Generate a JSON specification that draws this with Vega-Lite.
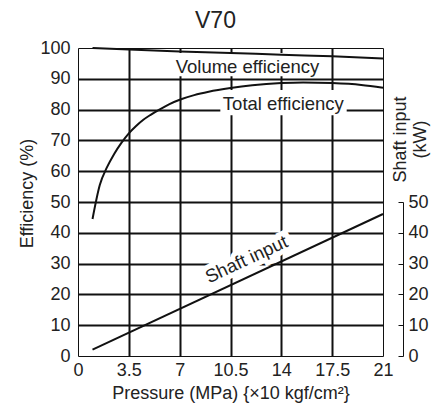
{
  "$schema": "https://vega.github.io/schema/vega-lite/v6.json",
  "width": 305,
  "height": 308,
  "autosize": "none",
  "padding": {"left": 78, "top": 48, "right": 60, "bottom": 53},
  "background": "white",
  "config": {
    "font": "Liberation Sans",
    "view": {"stroke": null},
    "axis": {"labelFont": "Liberation Sans", "titleFont": "Liberation Sans", "labelColor": "#222", "titleColor": "#222", "labelFontSize": 18, "titleFontSize": 18, "titleFontWeight": "normal"}
  },
  "title": {"text": "V70", "fontSize": 23, "fontWeight": "normal", "font": "Liberation Sans", "color": "#222", "anchor": "middle", "frame": "group", "dx": -15, "dy": 16, "baseline": "alphabetic", "offset": 4},
  "datasets": {
    "eff": [
      {"series": "Volume efficiency", "p": 1, "v": 100},
      {"series": "Volume efficiency", "p": 3.5, "v": 99.5},
      {"series": "Volume efficiency", "p": 7, "v": 98.9},
      {"series": "Volume efficiency", "p": 10.5, "v": 98.4},
      {"series": "Volume efficiency", "p": 14, "v": 97.8},
      {"series": "Volume efficiency", "p": 17.5, "v": 97.3},
      {"series": "Volume efficiency", "p": 21, "v": 96.6},
      {"series": "Total efficiency", "p": 1, "v": 44.5},
      {"series": "Total efficiency", "p": 1.5, "v": 55.5},
      {"series": "Total efficiency", "p": 2, "v": 61.3},
      {"series": "Total efficiency", "p": 2.5, "v": 65.7},
      {"series": "Total efficiency", "p": 3, "v": 69.3},
      {"series": "Total efficiency", "p": 3.5, "v": 72.3},
      {"series": "Total efficiency", "p": 4, "v": 74.7},
      {"series": "Total efficiency", "p": 4.5, "v": 76.7},
      {"series": "Total efficiency", "p": 5, "v": 78.3},
      {"series": "Total efficiency", "p": 5.6, "v": 80},
      {"series": "Total efficiency", "p": 6.3, "v": 81.8},
      {"series": "Total efficiency", "p": 7, "v": 83.2},
      {"series": "Total efficiency", "p": 8, "v": 84.7},
      {"series": "Total efficiency", "p": 9, "v": 85.8},
      {"series": "Total efficiency", "p": 10.5, "v": 87},
      {"series": "Total efficiency", "p": 12, "v": 87.9},
      {"series": "Total efficiency", "p": 14, "v": 88.6},
      {"series": "Total efficiency", "p": 15.5, "v": 88.8},
      {"series": "Total efficiency", "p": 17.5, "v": 88.6},
      {"series": "Total efficiency", "p": 19.5, "v": 88},
      {"series": "Total efficiency", "p": 21, "v": 87.1}
    ],
    "boxes": [
      {"p": 6.5, "p2": 16.8, "v": 90.8, "v2": 98.4},
      {"p": 9.8, "p2": 18.5, "v": 78.2, "v2": 86.4}
    ],
    "labels": [
      {"p": 11.67, "v": 91.9, "label": "Volume efficiency"},
      {"p": 14.14, "v": 80.0, "label": "Total efficiency"}
    ],
    "shaft": [
      {"p": 1, "kw": 2.1},
      {"p": 21, "kw": 46.1}
    ],
    "shaftLabel": [
      {"p": 11.6, "kw": 31.4, "label": "Shaft input"}
    ]
  },
  "layer": [
    {
      "encoding": {
        "x": {
          "field": "p", "type": "quantitative",
          "scale": {"domain": [0, 21], "nice": false, "zero": false},
          "axis": {
            "title": "Pressure (MPa) {×10 kgf/cm²}",
            "values": [0, 3.5, 7, 10.5, 14, 17.5, 21],
            "format": ".3~g",
            "domain": false, "ticks": false, "labelPadding": 5,
            "labelFlush": false,
            "grid": true, "gridColor": "#111",
            "gridWidth": {"condition": {"test": "datum.value == 0 || datum.value == 21", "value": 1}, "value": 2},
            "titleY": 37, "titleBaseline": "middle"
          }
        },
        "y": {
          "field": "v", "type": "quantitative",
          "scale": {"domain": [0, 100], "nice": false, "zero": false},
          "axis": {
            "title": "Efficiency (%)",
            "values": [0, 10, 20, 30, 40, 50, 60, 70, 80, 90, 100],
            "domain": false, "ticks": false, "labelPadding": 8,
            "labelFlush": false,
            "grid": true, "gridColor": "#111",
            "gridWidth": {"condition": {"test": "datum.value == 0 || datum.value == 100", "value": 1}, "value": 2},
            "titleAngle": 270, "titleX": -51, "titleY": 145, "titleAlign": "center", "titleBaseline": "middle"
          }
        }
      },
      "layer": [
        {
          "data": {"name": "boxes"},
          "mark": {"type": "rect", "fill": "white"},
          "encoding": {"x2": {"field": "p2"}, "y2": {"field": "v2"}}
        },
        {
          "data": {"name": "eff"},
          "mark": {"type": "line", "color": "#111", "strokeWidth": 2, "interpolate": "monotone"},
          "encoding": {"detail": {"field": "series"}}
        },
        {
          "data": {"name": "labels"},
          "mark": {"type": "text", "fontSize": 18.5, "font": "Liberation Sans", "baseline": "alphabetic", "align": "center", "color": "#222"},
          "encoding": {"text": {"field": "label"}}
        }
      ]
    },
    {
      "encoding": {
        "x": {"field": "p", "type": "quantitative"},
        "y": {
          "field": "kw", "type": "quantitative",
          "scale": {"domain": [0, 50], "nice": false, "zero": false, "range": [{"expr": "height"}, {"expr": "height/2"}]},
          "axis": {
            "orient": "right", "offset": 20,
            "title": ["Shaft input", "(kW)"],
            "values": [0, 10, 20, 30, 40, 50],
            "grid": false, "domain": true, "domainColor": "#111", "domainWidth": 1,
            "ticks": true, "tickSize": -5, "tickColor": "#111", "tickWidth": 1,
            "labelPadding": 10, "labelFlush": false,
            "titleAngle": 270, "titleX": -3, "titleY": 91, "titleAlign": "center", "titleBaseline": "middle", "titleLineHeight": 20
          }
        }
      },
      "layer": [
        {
          "data": {"name": "shaftLabel"},
          "mark": {"type": "text", "fontSize": 18.5, "font": "Liberation Sans", "baseline": "middle", "align": "center", "angle": -25, "color": "white", "stroke": "white", "strokeWidth": 10},
          "encoding": {"text": {"field": "label"}}
        },
        {
          "data": {"name": "shaft"},
          "mark": {"type": "line", "color": "#111", "strokeWidth": 2}
        },
        {
          "data": {"name": "shaftLabel"},
          "mark": {"type": "text", "fontSize": 18.5, "font": "Liberation Sans", "baseline": "middle", "align": "center", "angle": -25, "color": "#222"},
          "encoding": {"text": {"field": "label"}}
        }
      ]
    }
  ],
  "resolve": {"scale": {"y": "independent"}, "axis": {"y": "independent"}}
}
